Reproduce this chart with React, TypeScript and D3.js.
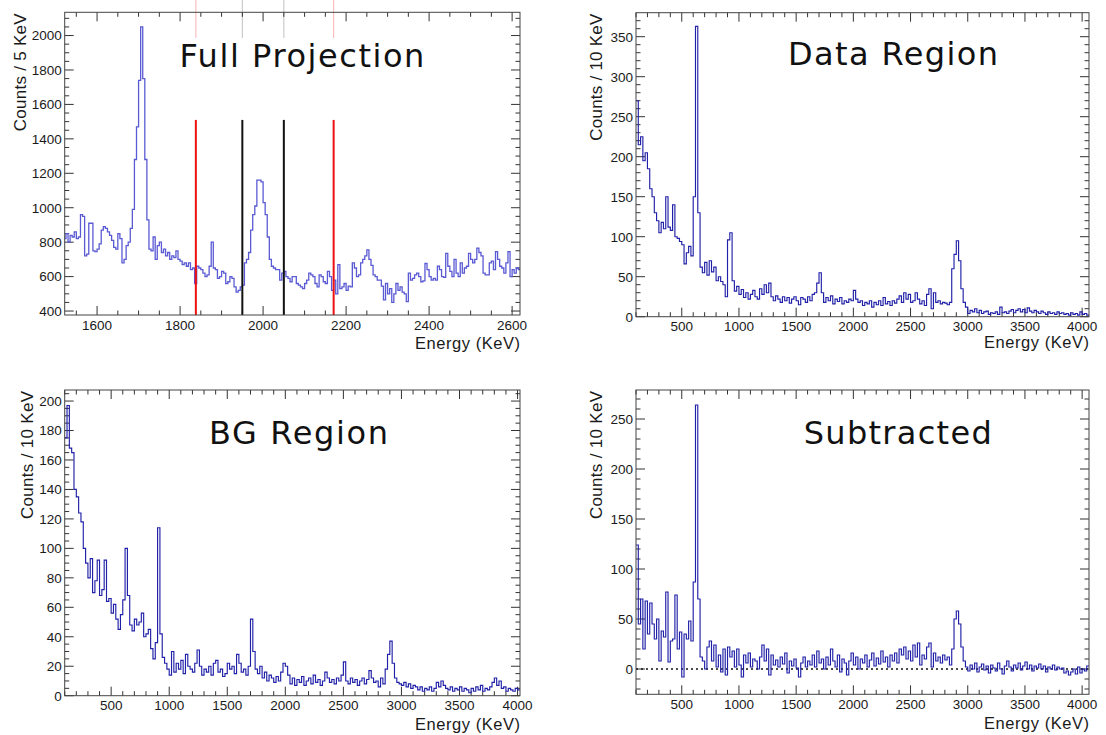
import React from 'react';
import * as d3 from 'd3';

// ---------------- DATA ----------------
// Full projection: counts per 5 KeV, bins starting at 1520 KeV
const fullBinStart = 1520;
const fullBinWidth = 5;
const fullCounts = [
  820, 850, 800, 840, 830, 860, 820, 830, 960, 950, 720, 730, 910, 910, 750, 745,
  760, 790, 870, 890, 880, 860, 840, 810, 770, 760, 850, 820, 680, 700, 780, 800,
  880, 990, 1280, 1470, 1740, 2050, 1750, 1280, 930, 760, 750, 830, 700, 780, 800, 740,
  760, 720, 740, 700, 720, 710, 750, 700, 690, 670, 680, 660, 680, 640, 650, 560,
  660, 650, 640, 620, 600, 610, 660, 800, 650, 640, 590, 600, 630, 620, 560, 570,
  600, 590, 540, 510, 520, 540, 550, 680, 700, 740, 870, 960, 1010, 1160, 1160, 1150,
  1030, 960, 830, 700, 660, 650, 640, 640, 580, 620, 630, 600,
  590, 570, 600, 600, 560, 550, 540, 530, 560, 580, 620, 610, 600, 560, 540, 610,
  600, 570, 560, 630, 600, 520, 580, 500, 670, 530, 540, 560, 520, 545, 540, 680,
  650, 600, 610, 680, 700, 720, 755, 700, 665, 610, 600, 580, 580, 545, 465, 560,
  500, 530, 450, 500, 560, 520, 540, 510, 500, 455, 620, 580, 590, 610, 620, 600,
  570, 575, 676, 640, 600, 580, 590, 580, 660, 640, 600, 595, 735, 660, 630, 600,
  700, 620, 600, 680, 620, 650, 660, 735, 700, 680, 700, 765, 740, 720, 620, 610,
  610, 680, 690, 640, 745, 700, 660, 650, 620, 680, 745, 600, 640, 620, 650, 640,
];
const signalWindow = [1950, 2050];
const sidebandWindow = [1838, 2170];
const windowLineTop = 1510;

// Other panels: 20 KeV bins starting at 100 KeV (y in counts / 10 KeV)
const spectrumBinStart = 100;
const spectrumBinWidth = 20;
const dataRegionCounts = [
  270, 215, 225, 195, 205, 185, 160, 150, 130, 120, 105, 118, 110, 150, 112, 108,
  140, 100, 98, 94, 90, 66, 80, 88, 76, 150, 363, 130, 62, 55, 68, 52,
  70, 56, 62, 45, 50, 44, 40, 25, 96, 105, 45, 32, 38, 28, 34, 24,
  30, 22, 28, 33, 25, 22, 35, 28, 40, 30, 42, 25, 20, 26, 22, 18,
  25, 20, 24, 17, 22, 25, 20, 15, 24, 22, 18, 25, 20, 28, 30, 42,
  55, 30, 18, 24, 20, 26, 16, 22, 19, 24, 16, 20, 18, 22, 20, 33,
  22, 18, 20, 14, 18, 16, 20, 12, 18, 15, 20, 14, 24, 16, 19, 14,
  20, 17, 22, 26, 18, 30, 22, 28, 18, 20, 30, 22, 16, 20, 14, 28,
  35, 10, 30, 18, 20, 16, 18, 17, 15, 18, 60, 78, 95, 70, 35, 18,
  12, 4, 8, 6, 10, 5, 8, 4, 6, 7, 3, 5, 4, 6, 3, 12,
  5, 6, 4, 7, 9, 5, 8, 10, 6, 9, 5, 11, 7, 5, 8, 6,
  4, 7, 5, 3, 6, 4, 5, 3, 6, 4, 5, 3, 4, 2, 5, 3,
  4, 2, 6, 3, 4, 2,
];
const bgRegionCounts = [
  175, 197, 168, 165, 140, 135, 124, 118, 100, 90, 80, 93, 70, 78, 92, 68,
  72, 92, 64, 66, 56, 62, 52, 45, 55, 65, 100, 68, 48, 44, 52, 48,
  50, 56, 40, 42, 45, 32, 25, 36, 114, 42, 26, 22, 18, 14, 30, 16,
  22, 18, 24, 15, 28, 20, 18, 16, 22, 31, 20, 14, 18, 16, 20, 14,
  22, 24, 16, 18, 13, 15, 22, 18, 20, 15, 28, 22, 16, 18, 14, 20,
  52, 30, 18, 15, 20, 12, 16, 10, 14, 12, 9, 13, 10, 16, 22, 20,
  14, 8, 12, 7, 11, 9, 13, 7, 10, 12, 8, 14, 9, 11, 7, 10,
  16, 12, 9, 11, 8, 12, 10, 14, 23, 10, 8, 12, 9, 11, 7, 10,
  12, 8, 11, 17, 12, 9, 10, 6, 12, 8, 18, 28, 37, 22, 12, 9,
  8, 7, 9, 6, 8, 5, 7, 6, 4, 6, 3, 5, 4, 6, 3, 5,
  9, 6, 10, 7, 5, 4, 6, 3, 5, 4, 6, 3, 5, 4, 2, 5,
  3, 6, 4, 7, 3, 5, 4, 6, 9, 12, 7, 10, 5, 6, 3, 5,
  4, 3, 5, 4,
];
const subtractedCounts = [
  124, 45, 70, 20, 68, 35, 66, 45, 30, 50, 8, 38, 32, 77, 7, 28,
  30, 74, 20, 37, -8, 35, 30, 48, 28, 87, 264, 70, 12, 8, 0, 22,
  28, 8, 24, 2, 14, -3, 20, -6, 22, 12, 18, 2, 20, 4, -8, 14,
  6, 16, 2, 10, 8, 0, 12, 24, 8, 20, -6, 14, 4, 9, 2, 12,
  5, 16, -4, 8, 3, 10, 1, -8, 6, 12, 2, 8, 4, 14, 2, 18,
  6, 10, 0, 12, 4, 20, 8, 2, 14, -3, 10, 6, -6, 8, 16, 4,
  12, 0, 10, 6, 14, 2, 9, 16, 3, 11, 5, 18, 7, 12, 2, 14,
  8, 16, 6, 20, 14, 22, 10, 18, 8, 24, 12, 26, 4, 14, 10, 22,
  26, 2, 16, 8, 12, 6, 14, 9, 12, 4, 20, 50, 58, 45, 22, 8,
  2, -2, 4, 0, 6, -3, 2, 5, -1, 3, -4, 4, 1, -2, 6, 0,
  -5, 3, 8, 2, -2, 4, 1, 6, -1, 3, 7, 0, 4, -2, 3, 1,
  5, 0, 3, -3, 2, 0, 4, -1, 2, 0, 1, -4, -2, -6, -3, 0,
  -5, 2, -4, 0, -2, 3,
];

// Tick labels
const fullXTicks = [1600, 1800, 2000, 2200, 2400, 2600];
const fullYTicks = [400, 600, 800, 1000, 1200, 1400, 1600, 1800, 2000];
const energyTicks = [500, 1000, 1500, 2000, 2500, 3000, 3500, 4000];
const dataYTicks = [0, 50, 100, 150, 200, 250, 300, 350];
const bgYTicks = [0, 20, 40, 60, 80, 100, 120, 140, 160, 180, 200];
const subYTicks = [0, 50, 100, 150, 200, 250];

// ---------------- STYLE ----------------
const TICK_FONT = '"Liberation Sans", Arial, Helvetica, sans-serif';
const TITLE_FONT = '"DejaVu Sans", Verdana, sans-serif';

type Cfg = {
  key: string;
  left: number; right: number; top: number; bottom: number;
  xDomain: [number, number]; yDomain: [number, number];
  values: number[]; binStart: number; binWidth: number;
  xTicks: number[]; yTicks: number[]; xMinor: number; yMinor: number;
  color: string; lineWidth: number;
  title: string; titleX: number; titleY: number; titleLen: number;
  yTitle: string; yTitleX: number; yTitleLen: number;
  xTitleY: number; xTitleLen: number;
  zeroLine?: boolean;
  windows?: boolean;
};

const panels: Cfg[] = [
  {
    key: 'full', left: 64.7, right: 520, top: 12.3, bottom: 315,
    xDomain: [1522, 2619], yDomain: [377, 2135],
    values: fullCounts, binStart: fullBinStart, binWidth: fullBinWidth,
    xTicks: fullXTicks, yTicks: fullYTicks, xMinor: 50, yMinor: 50,
    color: '#5a5ad4', lineWidth: 1.3,
    title: 'Full Projection', titleX: 179.4, titleY: 66.7, titleLen: 245,
    yTitle: 'Counts / 5 KeV', yTitleX: 26, yTitleLen: 118,
    xTitleY: 349, xTitleLen: 105, windows: true,
  },
  {
    key: 'data', left: 636, right: 1089, top: 12.7, bottom: 316.7,
    xDomain: [100, 4060], yDomain: [0, 380],
    values: dataRegionCounts, binStart: spectrumBinStart, binWidth: spectrumBinWidth,
    xTicks: energyTicks, yTicks: dataYTicks, xMinor: 100, yMinor: 10,
    color: '#2020a8', lineWidth: 1.15,
    title: 'Data Region', titleX: 788, titleY: 65, titleLen: 210,
    yTitle: 'Counts / 10 KeV', yTitleX: 601.5, yTitleLen: 127,
    xTitleY: 348, xTitleLen: 105,
  },
  {
    key: 'bg', left: 64.7, right: 520, top: 390, bottom: 695.7,
    xDomain: [100, 4021], yDomain: [0, 207.5],
    values: bgRegionCounts, binStart: spectrumBinStart, binWidth: spectrumBinWidth,
    xTicks: energyTicks, yTicks: bgYTicks, xMinor: 100, yMinor: 5,
    color: '#2020a8', lineWidth: 1.15,
    title: 'BG Region', titleX: 209, titleY: 444.3, titleLen: 179,
    yTitle: 'Counts / 10 KeV', yTitleX: 32.5, yTitleLen: 128,
    xTitleY: 729.5, xTitleLen: 105,
  },
  {
    key: 'sub', left: 636, right: 1089, top: 390, bottom: 694.3,
    xDomain: [100, 4060], yDomain: [-25.3, 279],
    values: subtractedCounts, binStart: spectrumBinStart, binWidth: spectrumBinWidth,
    xTicks: energyTicks, yTicks: subYTicks, xMinor: 100, yMinor: 10,
    color: '#2020a8', lineWidth: 1.15,
    title: 'Subtracted', titleX: 803.7, titleY: 444.3, titleLen: 188,
    yTitle: 'Counts / 10 KeV', yTitleX: 601.5, yTitleLen: 128,
    xTitleY: 728.5, xTitleLen: 105, zeroLine: true,
  },
];

function Panel({ c }: { c: Cfg }) {
  const x = d3.scaleLinear().domain(c.xDomain).range([c.left, c.right]);
  const y = d3.scaleLinear().domain(c.yDomain).range([c.bottom, c.top]);
  const pts: [number, number][] = c.values.map((v, i) => [c.binStart + i * c.binWidth, v]);
  pts.push([c.binStart + c.values.length * c.binWidth, c.values[c.values.length - 1]]);
  const line = d3.line<[number, number]>().x(d => x(d[0])).y(d => y(d[1])).curve(d3.curveStepAfter);
  const clipId = `clip-${c.key}`;

  const xMinorTicks = d3.range(Math.ceil(c.xDomain[0] / c.xMinor) * c.xMinor, c.xDomain[1], c.xMinor);
  const yMinorTicks = d3.range(Math.ceil(c.yDomain[0] / c.yMinor) * c.yMinor, c.yDomain[1], c.yMinor);
  const isMajorX = (v: number) => c.xTicks.includes(v);
  const isMajorY = (v: number) => c.yTicks.includes(v);
  const MAJ = 9, MIN = 4.5;
  const tickColor = '#333';

  return (
    <g>
      <defs>
        <clipPath id={clipId}>
          <rect x={c.left} y={c.top} width={c.right - c.left} height={c.bottom - c.top} />
        </clipPath>
      </defs>
      {xMinorTicks.map(v => {
        const len = isMajorX(v) ? MAJ : MIN;
        const px = x(v);
        return (
          <g key={`xt${v}`} stroke={tickColor} strokeWidth={1}>
            <line x1={px} x2={px} y1={c.bottom} y2={c.bottom - len} />
            <line x1={px} x2={px} y1={c.top} y2={c.top + len} />
          </g>
        );
      })}
      {yMinorTicks.map(v => {
        const len = isMajorY(v) ? MAJ : MIN;
        const py = y(v);
        return (
          <g key={`yt${v}`} stroke={tickColor} strokeWidth={1}>
            <line x1={c.left} x2={c.left + len} y1={py} y2={py} />
            <line x1={c.right} x2={c.right - len} y1={py} y2={py} />
          </g>
        );
      })}
      {c.zeroLine && (
        <line x1={c.left} x2={c.right} y1={y(0)} y2={y(0)} stroke="#111" strokeWidth={1.4} strokeDasharray="2,3" />
      )}
      <path d={line(pts) || ''} fill="none" stroke={c.color} strokeWidth={c.lineWidth} clipPath={`url(#${clipId})`} />
      {c.windows && (
        <g>
          {sidebandWindow.map(e => (
            <g key={`sb${e}`}>
              <line x1={x(e)} x2={x(e)} y1={y(windowLineTop)} y2={c.bottom} stroke="#ee1111" strokeWidth={2} />
              <line x1={x(e)} x2={x(e)} y1={0} y2={38} stroke="#ee1111" strokeWidth={1} opacity={0.3} />
            </g>
          ))}
          {signalWindow.map(e => (
            <g key={`sg${e}`}>
              <line x1={x(e)} x2={x(e)} y1={y(windowLineTop)} y2={c.bottom} stroke="#111" strokeWidth={2} />
              <line x1={x(e)} x2={x(e)} y1={0} y2={38} stroke="#111" strokeWidth={1} opacity={0.25} />
            </g>
          ))}
        </g>
      )}
      <rect x={c.left} y={c.top} width={c.right - c.left} height={c.bottom - c.top} fill="none" stroke="#444" strokeWidth={1} />
      {c.xTicks.map(v => (
        <text key={`xl${v}`} x={x(v)} y={c.bottom + 14.5} textAnchor="middle" fontFamily={TICK_FONT} fontSize={13.5} fill="#1a1a1a">{v}</text>
      ))}
      {c.yTicks.map(v => (
        <text key={`yl${v}`} x={c.left - 3} y={y(v)} dy="0.36em" textAnchor="end" fontFamily={TICK_FONT} fontSize={13.5} fill="#1a1a1a">{v}</text>
      ))}
      <text x={c.right} y={c.xTitleY} textAnchor="end" fontFamily={TICK_FONT} fontSize={16.5} fill="#1a1a1a"
        textLength={c.xTitleLen} lengthAdjust="spacing">Energy (KeV)</text>
      <text transform={`translate(${c.yTitleX},${c.top + 1}) rotate(-90)`} textAnchor="end" fontFamily={TICK_FONT}
        fontSize={17} fill="#1a1a1a" textLength={c.yTitleLen} lengthAdjust="spacing">{c.yTitle}</text>
      <text x={c.titleX} y={c.titleY} fontFamily={TITLE_FONT} fontSize={32} fill="#111"
        textLength={c.titleLen} lengthAdjust="spacing">{c.title}</text>
    </g>
  );
}

export default function App() {
  return (
    <svg width={1106} height={735} viewBox="0 0 1106 735"
      style={{ position: 'absolute', left: 0, top: 0, background: '#fff', display: 'block' }}>
      <rect x={0} y={0} width={1106} height={735} fill="#fff" />
      {panels.map(p => <Panel key={p.key} c={p} />)}
    </svg>
  );
}
